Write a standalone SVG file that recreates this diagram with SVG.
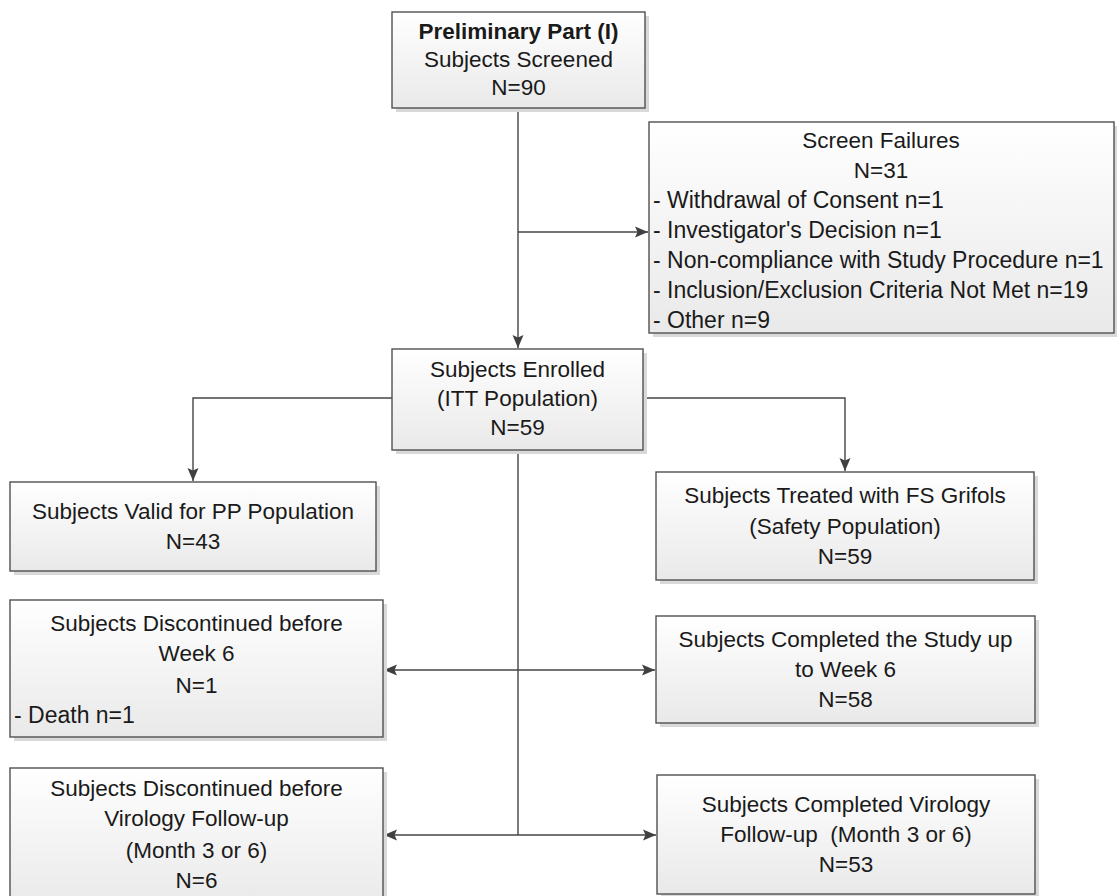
<svg xmlns="http://www.w3.org/2000/svg" width="1117" height="896" viewBox="0 0 1117 896">
<defs>
<linearGradient id="g" x1="0" y1="0" x2="0" y2="1">
<stop offset="0" stop-color="#ffffff"/>
<stop offset="1" stop-color="#e9e9e9"/>
</linearGradient>
<marker id="ah" markerUnits="userSpaceOnUse" markerWidth="14" markerHeight="12" refX="13" refY="6" orient="auto">
<path d="M0,0.5 L13,6 L0,11.5 L2.5,6 z" fill="#404040"/>
</marker>
<style>
.box{fill:url(#g);stroke:#505050;stroke-width:1.4}
.sh{fill:#d9d9d9}
.t{font-family:"Liberation Sans",Arial,sans-serif;font-size:22.5px;fill:#1a1a1a;text-anchor:middle}
.l{text-anchor:start;font-size:23px}
.b{font-weight:bold}
.c{fill:none;stroke:#454545;stroke-width:1.4}
</style>
</defs>
<rect width="1117" height="896" fill="#ffffff"/>
<g id="connectors">
<path class="c" d="M518,108 V348" marker-end="url(#ah)"/>
<path class="c" d="M518,232 H648" marker-end="url(#ah)"/>
<path class="c" d="M392,398 H193 V481" marker-end="url(#ah)"/>
<path class="c" d="M643,398 H845 V471" marker-end="url(#ah)"/>
<path class="c" d="M518,450 V835"/>
<path class="c" d="M518,670 H384" marker-end="url(#ah)"/>
<path class="c" d="M518,670 H655" marker-end="url(#ah)"/>
<path class="c" d="M518,835 H384" marker-end="url(#ah)"/>
<path class="c" d="M518,835 H656" marker-end="url(#ah)"/>
</g>
<g id="screened">
<rect class="sh" x="396" y="16" width="253" height="96"/>
<rect class="box" x="392" y="12" width="253" height="96"/>
<text class="t b" x="518.5" y="39">Preliminary Part (I)</text>
<text class="t" x="518.5" y="67">Subjects Screened</text>
<text class="t" x="518.5" y="95">N=90</text>
</g>
<g id="screen-failures">
<rect class="sh" x="653" y="126" width="464" height="211"/>
<rect class="box" x="649" y="122" width="465" height="211"/>
<text class="t" x="881" y="148">Screen Failures</text>
<text class="t" x="881" y="178">N=31</text>
<text class="t l" x="653" y="208">- Withdrawal of Consent n=1</text>
<text class="t l" x="653" y="238">- Investigator's Decision n=1</text>
<text class="t l" x="653" y="268">- Non-compliance with Study Procedure n=1</text>
<text class="t l" x="653" y="298">- Inclusion/Exclusion Criteria Not Met n=19</text>
<text class="t l" x="653" y="328">- Other n=9</text>
</g>
<g id="enrolled">
<rect class="sh" x="396" y="353" width="251" height="101"/>
<rect class="box" x="392" y="349" width="251" height="101"/>
<text class="t" x="517.5" y="377">Subjects Enrolled</text>
<text class="t" x="517.5" y="406">(ITT Population)</text>
<text class="t" x="517.5" y="435">N=59</text>
</g>
<g id="pp">
<rect class="sh" x="14" y="486" width="366" height="89"/>
<rect class="box" x="10" y="482" width="366" height="89"/>
<text class="t" x="193" y="519">Subjects Valid for PP Population</text>
<text class="t" x="193" y="549">N=43</text>
</g>
<g id="safety">
<rect class="sh" x="660" y="476" width="378" height="108"/>
<rect class="box" x="656" y="472" width="378" height="108"/>
<text class="t" x="845" y="503">Subjects Treated with FS Grifols</text>
<text class="t" x="845" y="534">(Safety Population)</text>
<text class="t" x="845" y="564">N=59</text>
</g>
<g id="disc-week6">
<rect class="sh" x="14" y="604" width="373" height="137"/>
<rect class="box" x="10" y="600" width="373" height="137"/>
<text class="t" x="196.5" y="631">Subjects Discontinued before</text>
<text class="t" x="196.5" y="661">Week 6</text>
<text class="t" x="196.5" y="693">N=1</text>
<text class="t l" x="14" y="723">- Death n=1</text>
</g>
<g id="comp-week6">
<rect class="sh" x="660" y="620" width="379" height="107"/>
<rect class="box" x="656" y="616" width="379" height="107"/>
<text class="t" x="845.5" y="647">Subjects Completed the Study up</text>
<text class="t" x="845.5" y="677">to Week 6</text>
<text class="t" x="845.5" y="707">N=58</text>
</g>
<g id="disc-virology">
<rect class="sh" x="14" y="772" width="373" height="140"/>
<rect class="box" x="10" y="768" width="373" height="140"/>
<text class="t" x="196.5" y="796">Subjects Discontinued before</text>
<text class="t" x="196.5" y="826">Virology Follow-up</text>
<text class="t" x="196.5" y="858">(Month 3 or 6)</text>
<text class="t" x="196.5" y="888">N=6</text>
</g>
<g id="comp-virology">
<rect class="sh" x="661" y="779" width="378" height="119"/>
<rect class="box" x="657" y="775" width="378" height="119"/>
<text class="t" x="846" y="812">Subjects Completed Virology</text>
<text class="t" x="846" y="842" style="white-space:pre">Follow-up  (Month 3 or 6)</text>
<text class="t" x="846" y="872">N=53</text>
</g>
</svg>
